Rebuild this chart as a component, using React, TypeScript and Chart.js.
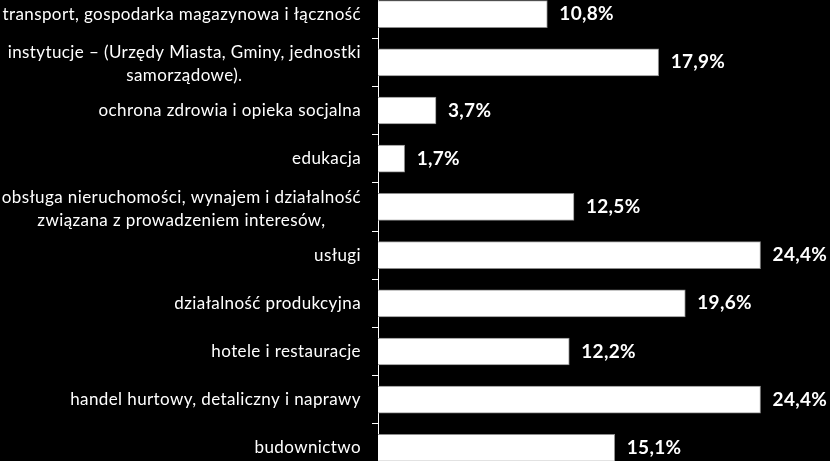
import React, { useEffect, useRef } from "react";
import { Chart, registerables } from "chart.js";

Chart.register(...registerables);

const categories: string[][] = [
  ["transport, gospodarka magazynowa i łączność"],
  ["instytucje – (Urzędy Miasta, Gminy, jednostki", "samorządowe)."],
  ["ochrona zdrowia i opieka socjalna"],
  ["edukacja"],
  ["obsługa nieruchomości, wynajem i działalność", "związana z prowadzeniem interesów,"],
  ["usługi"],
  ["działalność produkcyjna"],
  ["hotele i restauracje"],
  ["handel hurtowy, detaliczny i naprawy"],
  ["budownictwo"],
];

const values: number[] = [10.8, 17.9, 3.7, 1.7, 12.5, 24.4, 19.6, 12.2, 24.4, 15.1];

const FONT = "Lato, 'Open Sans', sans-serif";

const labelPlugin = {
  id: "customLabels",
  afterDatasetsDraw(chart: any) {
    const ctx = chart.ctx;
    const yScale = chart.scales.y;
    const meta = chart.getDatasetMeta(0);
    ctx.save();
    ctx.fillStyle = "#ffffff";
    ctx.textBaseline = "middle";
    // category labels
    ctx.font = `17px ${FONT}`;
    (ctx as any).letterSpacing = "0.4px";
    ctx.textAlign = "center";
    const rightEdge = 361;
    const lineH = 23;
    categories.forEach((lines, i) => {
      const yc = yScale.getPixelForValue(i);
      const w = Math.max(...lines.map((l) => ctx.measureText(l).width));
      const cx = rightEdge - w / 2;
      const y0 = yc - ((lines.length - 1) * lineH) / 2 + (lines.length > 1 ? 2 : 0);
      lines.forEach((l, j) => ctx.fillText(l, cx, y0 + j * lineH));
    });
    // value labels
    ctx.font = `bold 19px ${FONT}`;
    (ctx as any).letterSpacing = "0.3px";
    ctx.textAlign = "left";
    meta.data.forEach((bar: any, i: number) => {
      const txt = values[i].toFixed(1).replace(".", ",") + "%";
      ctx.fillText(txt, bar.x + 12, bar.y);
    });
    ctx.restore();
  },
};

export default function App() {
  const ref = useRef<HTMLCanvasElement | null>(null);
  useEffect(() => {
    document.body.style.background = "#000";
    const chart = new Chart(ref.current as HTMLCanvasElement, {
      type: "bar",
      data: {
        labels: categories.map((c) => c.join(" ")),
        datasets: [
          {
            data: values,
            backgroundColor: "#ffffff",
            borderColor: "#8c8c8c",
            borderWidth: 1,
            barThickness: 27,
          },
        ],
      },
      options: {
        indexAxis: "y",
        animation: false,
        responsive: false,
        maintainAspectRatio: false,
        layout: { padding: { left: 0, right: 13, top: 0, bottom: 0 } },
        plugins: { legend: { display: false }, tooltip: { enabled: false } },
        scales: {
          x: { display: false, min: 0, max: 28 },
          y: {
            afterFit: (scale: any) => {
              scale.width = 378;
            },
            ticks: { display: false },
            border: { display: true, color: "#ffffff", width: 1 },
            grid: {
              offset: true,
              drawOnChartArea: false,
              drawTicks: true,
              tickLength: 6,
              color: "#ffffff",
            },
          },
        },
      },
      plugins: [labelPlugin],
    });
    return () => chart.destroy();
  }, []);
  return (
    <div
      style={{
        position: "fixed",
        left: 0,
        top: 0,
        width: 830,
        height: 461,
        background: "#000",
        overflow: "hidden",
      }}
    >
      <div style={{ position: "absolute", left: 0, top: -10, width: 830, height: 482 }}>
        <canvas ref={ref} width={830} height={482} style={{ display: "block" }} />
      </div>
    </div>
  );
}
